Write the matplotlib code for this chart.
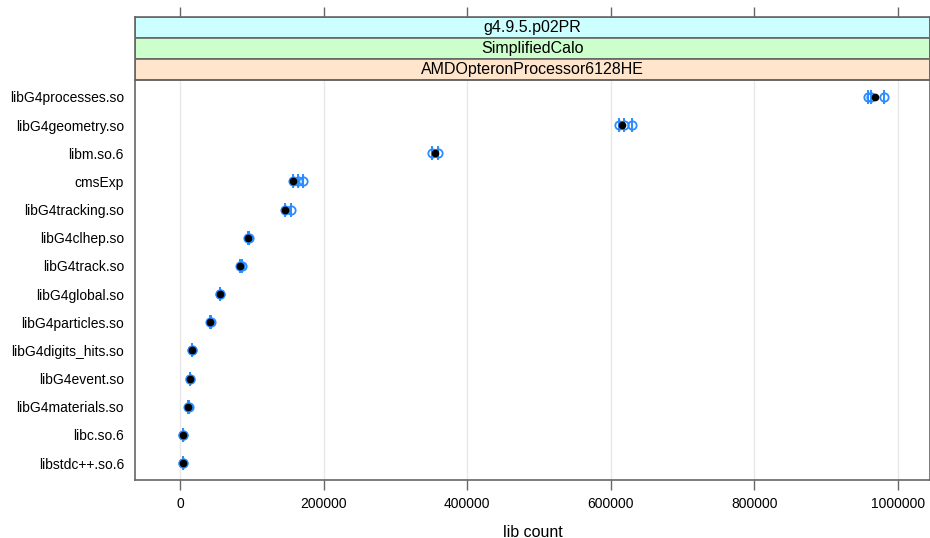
import numpy as np
import matplotlib.pyplot as plt
from matplotlib.patches import Rectangle

plt.rcParams['font.family'] = ['Liberation Sans', 'DejaVu Sans']

# libraries, top to bottom
libs = ['libG4processes.so', 'libG4geometry.so', 'libm.so.6', 'cmsExp',
        'libG4tracking.so', 'libG4clhep.so', 'libG4track.so', 'libG4global.so',
        'libG4particles.so', 'libG4digits_hits.so', 'libG4event.so',
        'libG4materials.so', 'libc.so.6', 'libstdc++.so.6']

# mean lib count per library (black dot)
means = [968000, 616000, 355000, 157000, 146000, 95000, 83500, 55700,
         41800, 16700, 13900, 11000, 4200, 4200]

# individual runs (blue)
runs = [
    [958000, 963000, 980000],
    [612000, 619000, 630000],
    [351000, 360000],
    [158000, 164000, 171000],
    [146000, 154000],
    [95000, 96000],
    [83000, 86000],
    [55700, 56000],
    [41500, 43500],
    [16700, 17000],
    [13900, 14500],
    [10500, 12000],
    [4000, 4500],
    [4000, 4500],
]

strips = ['g4.9.5.p02PR', 'SimplifiedCalo', 'AMDOpteronProcessor6128HE']
strip_colors = ['#ccffff', '#ccffcc', '#ffe5cc']

xticks = [0, 200000, 400000, 600000, 800000, 1000000]
xlim = (-62700, 1044600)

W, H = 930, 538
fig = plt.figure(figsize=(W / 100, H / 100), dpi=100)
frame = '#666666'
blue = '#2b8cff'

ax = fig.add_axes([135 / W, (H - 480) / H, 795 / W, 400 / H])
n = len(libs)
ypos = np.arange(n)[::-1]

for xv in xticks:
    ax.axvline(xv, color='#e8e8e8', lw=1, zorder=0)

for y, vals in zip(ypos, runs):
    ax.plot(vals, [y] * len(vals), linestyle='none', marker='|', ms=10,
            mew=1.4, color=blue, zorder=2)
    ax.plot(vals, [y] * len(vals), linestyle='none', marker='o', ms=6,
            mfc='none', mew=1.3, mec=blue, zorder=2)
ax.plot(means, ypos, linestyle='none', marker='o', ms=4.5, color='black', zorder=3)

ax.set_xlim(*xlim)
ax.set_ylim(-0.6, n - 0.4)
ax.set_yticks(ypos)
ax.set_yticklabels(libs, fontsize=10)
ax.set_xticks(xticks)
ax.set_xticklabels([str(v) for v in xticks], fontsize=10)
ax.tick_params(axis='y', length=0, pad=8)
ax.tick_params(axis='x', direction='out', length=7, width=1, colors=frame,
               labelcolor='black', pad=5)
for s in ax.spines.values():
    s.set_color(frame)
    s.set_linewidth(1.2)
ax.set_xlabel('lib count', fontsize=11.5, labelpad=10)

# strips
sax = fig.add_axes([135 / W, (H - 80) / H, 795 / W, 63 / H])
sax.set_xlim(*xlim)
sax.set_ylim(0, 3)
for i, (lab, col) in enumerate(zip(strips, strip_colors)):
    yb = 2 - i
    sax.add_patch(Rectangle((xlim[0], yb), xlim[1] - xlim[0], 1,
                            facecolor=col, edgecolor=frame, lw=1.2))
    sax.text(np.mean(xlim), yb + 0.5, lab, ha='center', va='center',
             fontsize=11.5)
sax.set_xticks(xticks)
sax.set_yticks([])
sax.tick_params(axis='x', top=True, bottom=False, labeltop=False,
                labelbottom=False, direction='out', length=7, width=1,
                colors=frame)
for s in sax.spines.values():
    s.set_color(frame)
    s.set_linewidth(1.2)

fig.savefig('out.png', dpi=100)
